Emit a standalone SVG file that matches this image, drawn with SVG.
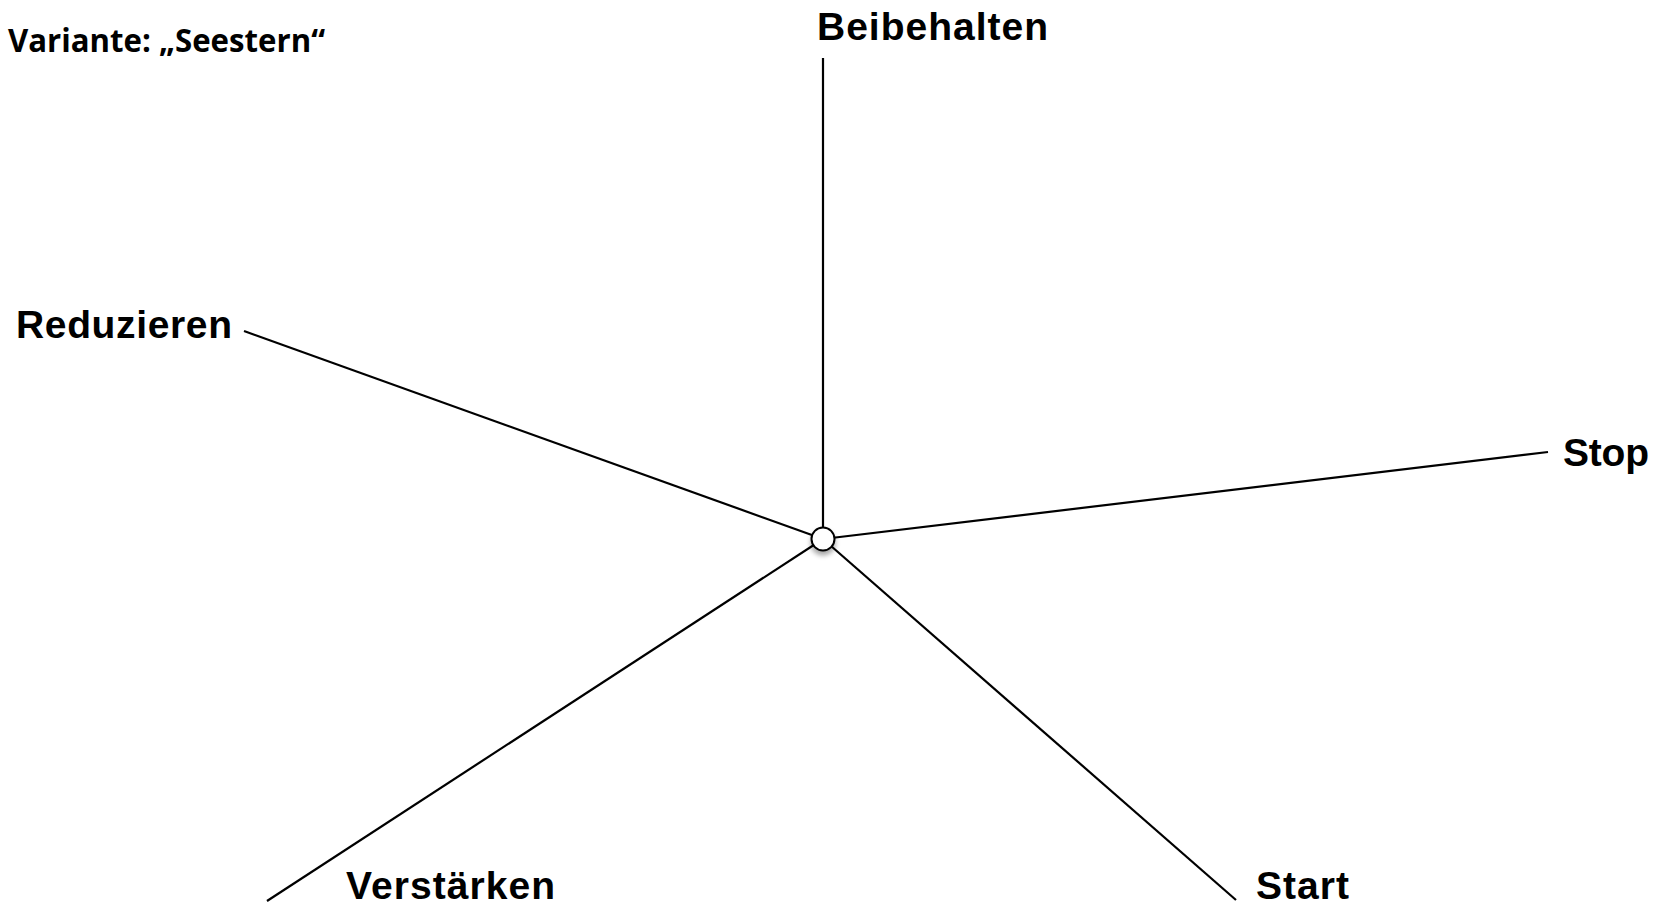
<svg xmlns="http://www.w3.org/2000/svg" width="1658" height="906" viewBox="0 0 1658 906">
<style>
.lbl{font-family:"Liberation Sans",Arial,sans-serif;font-weight:bold;font-size:39px;fill:#000}
.ttl{font-family:"Open Sans",Lato,sans-serif;font-weight:bold;font-size:33px;fill:#000}
.edge{stroke:#000;stroke-width:2.2;fill:none}
</style>
<defs>
<filter id="sh" x="-50%" y="-50%" width="200%" height="200%">
<feGaussianBlur in="SourceAlpha" stdDeviation="2.5"/>
<feOffset dx="0" dy="4" result="b"/>
<feComponentTransfer><feFuncA type="linear" slope="0.35"/></feComponentTransfer>
<feMerge><feMergeNode/><feMergeNode in="SourceGraphic"/></feMerge>
</filter>
</defs>
<rect width="1658" height="906" fill="#fff"/>
<text id="title" class="ttl" x="8" y="52" textLength="317" lengthAdjust="spacingAndGlyphs">Variante: „Seestern“</text>
<g id="connectors">
<line class="edge" x1="823" y1="58" x2="823" y2="539"/>
<line class="edge" x1="244" y1="331" x2="823" y2="539"/>
<line class="edge" x1="1548" y1="452" x2="823" y2="539"/>
<line class="edge" x1="267" y1="901" x2="823" y2="539"/>
<line class="edge" x1="1236" y1="900" x2="823" y2="539"/>
</g>
<g id="center"><circle cx="823" cy="539" r="11.5" fill="#fff" stroke="#000" stroke-width="2" filter="url(#sh)"/></g>
<g id="beibehalten"><text class="lbl" x="817" y="40" textLength="231">Beibehalten</text></g>
<g id="reduzieren"><text class="lbl" x="16" y="338" textLength="216">Reduzieren</text></g>
<g id="stop"><text class="lbl" x="1563" y="466" textLength="86">Stop</text></g>
<g id="verstaerken"><text class="lbl" x="346" y="899" textLength="209">Verstärken</text></g>
<g id="start"><text class="lbl" x="1256" y="899" textLength="93">Start</text></g>
</svg>
